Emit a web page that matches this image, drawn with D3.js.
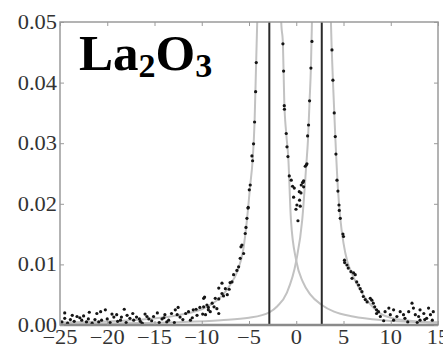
<!DOCTYPE html>
<html><head><meta charset="utf-8">
<script src="https://cdn.jsdelivr.net/npm/d3@7"></script>
<style>body{margin:0;background:#fff}svg{display:block}</style>
</head><body>
<svg id="c" width="443" height="345"></svg>
<script>
// ---- data ----
const xTicks = [-25, -20, -15, -10, -5, 0, 5, 10, 15];
const yTicks = [0, 0.01, 0.02, 0.03, 0.04, 0.05];
const yTickLabels = ["0.00", "0.01", "0.02", "0.03", "0.04", "0.05"];
const peakLines = [-2.85, 2.7];

// grey fitted curves [x, y]
const leftCurve = [[-25,0.0004],[-22,0.0005],[-19,0.00066],[-16,0.00094],[-13,0.0015],[-11,0.0021],[-10,0.0026],[-9,0.0034],[-8,0.0046],[-7,0.0066],[-6.2,0.009],[-5.6,0.0125],[-5.22,0.0173],[-4.87,0.0231],[-4.62,0.0271],[-4.41,0.0335],[-4.25,0.043],[-4.13,0.05],[-4.0,0.058],[-2.85,0.12],
  [-1.65,0.056],[-1.59,0.05],[-1.41,0.0464],[-1.27,0.037],[-1.06,0.0316],[-0.85,0.0278],[-0.56,0.0173],[0,0.0106],[0.7,0.0071],[1.5,0.005],[2.7,0.0033],[4,0.0022],[6,0.0014],[9,0.0008],[12,0.00055],[15,0.0004]];
const rightCurve = [[-25,0.0002],[-18,0.0003],[-12,0.0005],[-8,0.0008],[-5,0.0012],[-2.85,0.0021],[-2,0.0031],[-1,0.0053],[0,0.0106],[0.63,0.0173],[1.06,0.0264],[1.24,0.0305],[1.41,0.037],[1.55,0.0424],[1.66,0.05],[1.75,0.057],[2.7,0.12],
  [3.58,0.057],[3.67,0.05],[3.88,0.0404],[4.13,0.0311],[4.41,0.0225],[4.66,0.0176],[5.0,0.0135],[5.4,0.0105],[5.8,0.0088],[6.5,0.0065],[7.3,0.0045],[8.2,0.0028],[9,0.0018],[10,0.0012],[12,0.0007],[15,0.0004]];

// black measured points [x, y]
const farLeftPoints = [[-24.5,0.0020],[-23.7,0.0016],[-23.2,0.0014],[-24.5,0.0011],[-23.9,0.0009],[-22.9,0.0012],[-22.7,0.0008],[-22.2,0.0005],[-21.1,0.0019],[-20.7,0.0022],[-20.2,0.0025],[-21.3,0.0009],[-20.6,0.0008],[-20.0,0.0010],[-19.3,0.0013],[-19.0,0.0017],[-18.2,0.0026],[-18.6,0.0008],[-17.6,0.0011],[-17.2,0.0008],[-16.9,0.0013],[-16.0,0.0018],[-15.6,0.0010],[-15.1,0.0014],[-14.7,0.0020],[-14.2,0.0010],[-13.9,0.0017],[-13.5,0.0008],[-13.2,0.0019],[-12.8,0.0025],[-12.5,0.0029],[-12.3,0.0013],[-11.7,0.0019],[-11.4,0.0022],[-10.9,0.0025],[-10.6,0.0026],[-10.2,0.0029],[-9.8,0.0044],[-9.3,0.0029],[-9.1,0.0022],[-8.4,0.0027],
  [-24.8,0.0005],[-24.2,0.0003],[-23.5,0.0006],[-22.0,0.0010],[-21.6,0.0003],[-20.9,0.0005],[-19.7,0.0004],[-18.9,0.0006],[-18.0,0.0004],[-17.9,0.0016],[-16.5,0.0006],[-16.3,0.0003],[-15.3,0.0007],[-14.5,0.0004],[-13.7,0.0005],[-12.9,0.0004],[-12.0,0.0009],[-11.0,0.0012],[-10.5,0.0016],[-9.9,0.0018],[-14.0,0.0012],[-15.8,0.0014],[-17.3,0.0019],[-19.5,0.0018],[-18.5,0.0013],[-22.5,0.0015],[-21.9,0.0021],[-11.2,0.0008],[-12.6,0.0017],[-16.6,0.0010]];
const leftFlankPoints = [[-5.32,0.0161],[-5.4,0.0151],[-5.75,0.0132],[-5.85,0.0129],[-5.57,0.0118],[-5.93,0.0110],[-6.1,0.0096],[-6.28,0.0090],[-6.63,0.0083],[-6.8,0.0071],[-7.0,0.0070],[-7.86,0.0069],[-8.2,0.0061],[-7.5,0.0060],[-7.1,0.0059],[-7.86,0.0052],[-8.57,0.0044],[-9.7,0.0046],[-8.2,0.0043],[-7.7,0.0048],[-7.3,0.0050],[-8.9,0.0036],[-9.45,0.0033],[-9.8,0.0030],[-8.7,0.0030],[-8.2,0.0019],[-9.3,0.0025],[-9.6,0.0017],
  [-4.23,0.0433],[-4.3,0.0385],[-4.41,0.0335],[-4.52,0.0299],[-4.69,0.0279],[-4.62,0.0271],[-4.87,0.0231],[-4.97,0.0223],[-5.11,0.0193],[-5.22,0.0176],[-5.08,0.0194]];
const centerPoints = [[-1.41,0.0464],[-1.34,0.0419],[-1.27,0.0362],[-1.25,0.0356],[-1.06,0.0316],[-0.98,0.0294],[-0.88,0.0278],[1.13,0.0266],[0.95,0.0262],[-0.74,0.0246],[-0.53,0.0239],[-0.39,0.0229],[-0.21,0.0226],[0.78,0.0238],[0.67,0.0235],[0.53,0.0231],[0.78,0.0228],[0.32,0.0220],[-0.28,0.0211],[0.35,0.0206],[0.07,0.0198],[-0.03,0.0191],[0.42,0.0196],[0.18,0.0172],
  [1.66,0.0468],[1.55,0.0424],[1.41,0.0370],[1.3,0.0330],[1.2,0.0312],[1.06,0.0264],[0.74,0.0236],[0.5,0.0218]];
const rightFlankPoints = [[3.78,0.0454],[3.88,0.0404],[4.02,0.0350],[4.13,0.0311],[4.2,0.0282],[4.31,0.0239],[4.41,0.0221],[4.52,0.0198],[4.55,0.0189],[4.66,0.0176],[4.94,0.0150],[5.0,0.0146],[5.1,0.0107],[5.12,0.0103],[5.36,0.0099],[5.5,0.0094],[5.79,0.0088],[6.07,0.0086],[6.24,0.0083],[5.9,0.0077],[6.4,0.0071],[6.6,0.0066],[6.77,0.0060],[6.95,0.0055],[7.1,0.0047],[7.3,0.0042],[7.5,0.0038],[7.83,0.0044],[8.0,0.0041],[8.15,0.0036],[8.3,0.0030],[8.5,0.0025],[8.7,0.0022]];
const rightTailPoints = [[8.5,0.0019],[8.9,0.0014],[9.4,0.0022],[9.8,0.0028],[9.95,0.0017],[10.3,0.0025],[10.65,0.0014],[11.0,0.0022],[11.35,0.0017],[11.5,0.0011],[11.9,0.0022],[12.25,0.0036],[12.4,0.0028],[12.6,0.0017],[12.95,0.0014],[13.1,0.0025],[13.5,0.0019],[13.6,0.0009],[14.0,0.0028],[14.2,0.0017],[14.4,0.0008],[14.5,0.0022],[13.1,0.0008],[13.8,0.0011],[10.3,0.0008],[9.25,0.0007],[11.8,0.0005],[12.8,0.0004]];

// ---- drawing ----
const W = 443, H = 345;
const L = 60, R = 438, T = 22, B = 325;
const x = d3.scaleLinear().domain([-25, 15]).range([L, R]);
const y = d3.scaleLinear().domain([0, 0.05]).range([B, T]);
const svg = d3.select("#c");

svg.append("defs").append("clipPath").attr("id", "clip")
  .append("rect").attr("x", L).attr("y", T).attr("width", R - L).attr("height", B - T);

const plot = svg.append("g").attr("clip-path", "url(#clip)");
const line = d3.line().x(d => x(d[0])).y(d => y(d[1])).curve(d3.curveMonotoneX);

[leftCurve, rightCurve].forEach(c => {
  plot.append("path").attr("d", line(c)).attr("fill", "none")
    .attr("stroke", "#c2c2c2").attr("stroke-width", 2);
});

plot.selectAll("line.peak").data(peakLines).enter().append("line")
  .attr("x1", d => x(d)).attr("x2", d => x(d)).attr("y1", T).attr("y2", B)
  .attr("stroke", "#2a2a2a").attr("stroke-width", 2);

const allPoints = [].concat(farLeftPoints, leftFlankPoints, centerPoints, rightFlankPoints, rightTailPoints);
plot.selectAll("circle").data(allPoints).enter().append("circle")
  .attr("cx", d => x(d[0])).attr("cy", d => y(d[1])).attr("r", 1.6).attr("fill", "#151515");

// frame
svg.append("rect").attr("x", L).attr("y", T).attr("width", R - L).attr("height", B - T)
  .attr("fill", "none").attr("stroke", "#9a9a9a").attr("stroke-width", 1.5);
svg.append("line").attr("x1", L).attr("x2", R).attr("y1", B).attr("y2", B)
  .attr("stroke", "#8a8a8a").attr("stroke-width", 2.5);

// axes with inward ticks
const axB = d3.axisBottom(x).tickValues(xTicks).tickSize(-4).tickFormat("");
const axT = d3.axisTop(x).tickValues(xTicks).tickSize(-4).tickFormat("");
const axL = d3.axisLeft(y).tickValues(yTicks).tickSize(-4).tickFormat("");
const axR = d3.axisRight(y).tickValues(yTicks).tickSize(-4).tickFormat("");
[[axB, `translate(0,${B})`], [axT, `translate(0,${T})`], [axL, `translate(${L},0)`], [axR, `translate(${R},0)`]]
  .forEach(([a, t]) => {
    const g = svg.append("g").attr("transform", t).call(a);
    g.select(".domain").remove();
    g.selectAll("line").attr("stroke", "#9a9a9a").attr("stroke-width", 1);
  });

// tick labels (serif, slightly stretched)
const fmtX = d => (d < 0 ? "\u2212" + Math.abs(d) : String(d));
svg.selectAll("text.xl").data(xTicks).enter().append("text")
  .attr("transform", d => `translate(${x(d)},344) scale(1.12,1)`)
  .attr("text-anchor", "middle").attr("font-family", "Liberation Serif, serif")
  .attr("font-size", 20).attr("fill", "#333").text(fmtX);
svg.selectAll("text.yl").data(yTicks).enter().append("text")
  .attr("transform", d => `translate(57,${y(d) + 7}) scale(1.12,1)`)
  .attr("text-anchor", "end").attr("font-family", "Liberation Serif, serif")
  .attr("font-size", 20).attr("fill", "#333").text((d, i) => yTickLabels[i]);

// title
const title = svg.append("text").attr("x", 79).attr("y", 70)
  .attr("font-family", "Liberation Serif, serif").attr("font-weight", "bold")
  .attr("font-size", 51).attr("fill", "#000");
title.append("tspan").text("La");
title.append("tspan").attr("font-size", 34).attr("dy", 7).text("2");
title.append("tspan").attr("dy", -7).text("O");
title.append("tspan").attr("font-size", 34).attr("dy", 7).text("3");
</script>
</body></html>
